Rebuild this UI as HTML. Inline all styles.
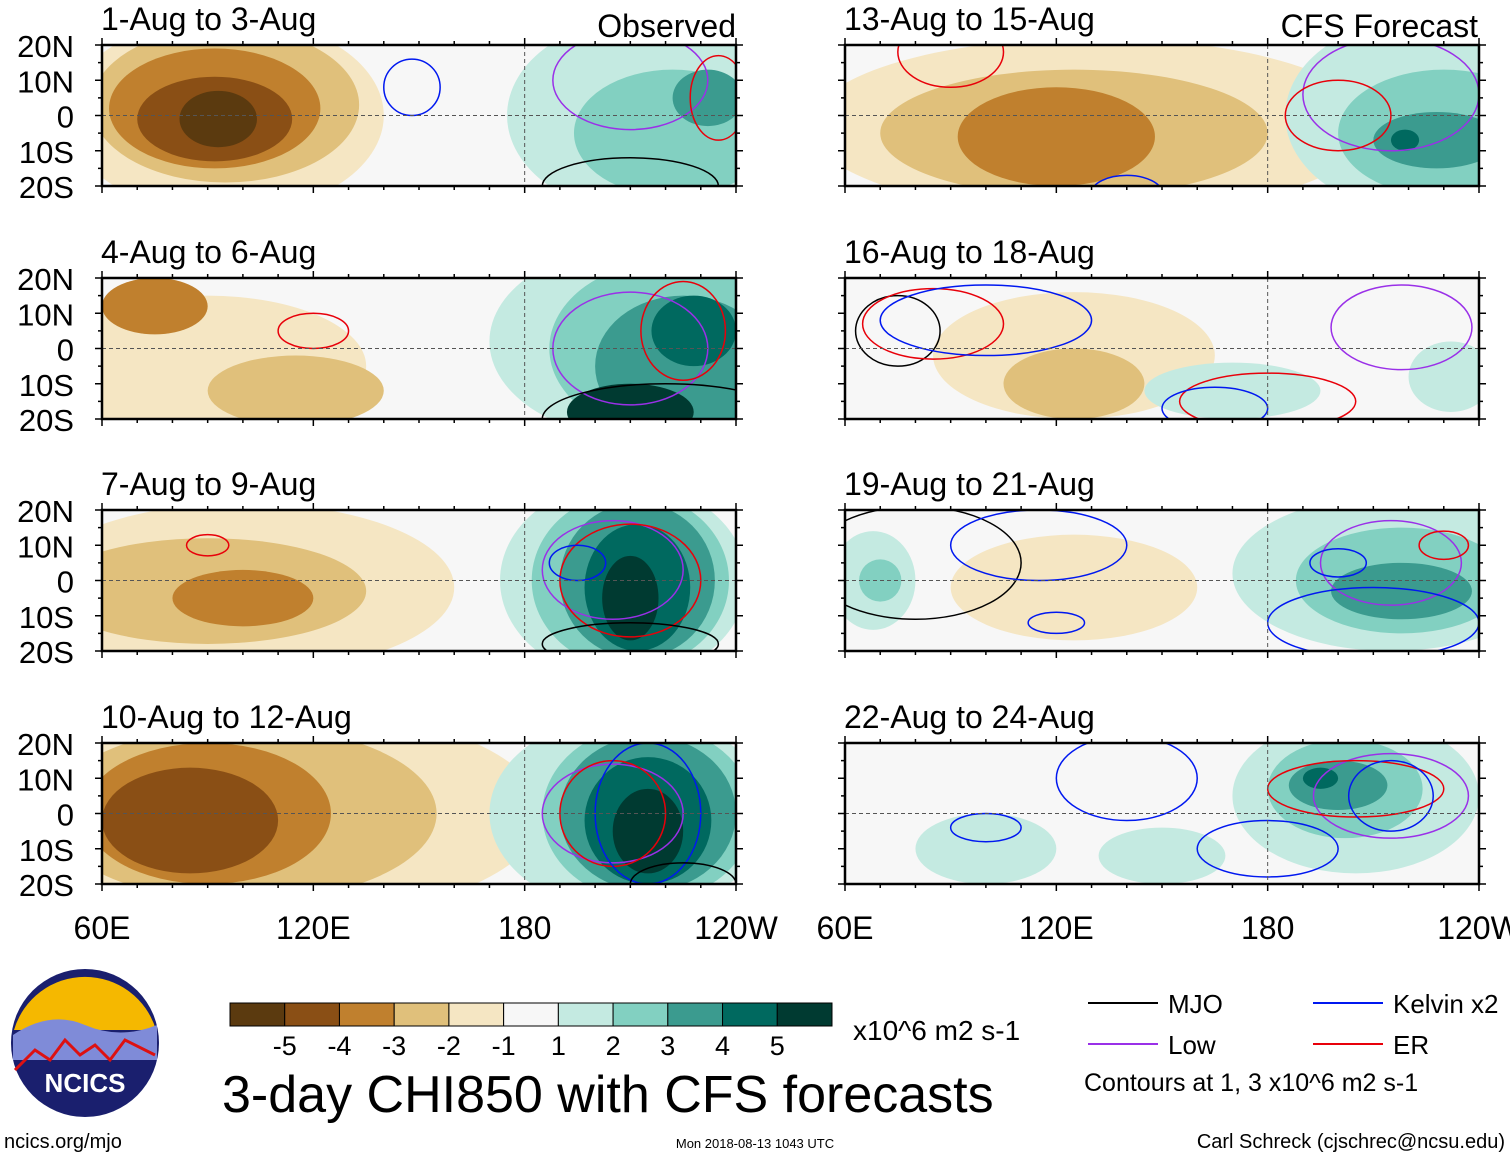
<!DOCTYPE html>
<html><head><meta charset="utf-8"><style>
body{margin:0;background:#fff;font-family:"Liberation Sans",sans-serif;}
#root{position:relative;width:1510px;height:1158px;overflow:hidden;}
</style></head><body><div id="root">
<svg id="svg" width="1510" height="1158" style="position:absolute;left:0;top:0"></svg>
</div>
<script>
const levelColors={"-5":"#5b3a0f","-4":"#8a4f15","-3":"#c0802e","-2":"#e0c07b","-1":"#f5e6c3","1":"#c4eae1","2":"#82d0c1","3":"#3b9b8f","4":"#00695f","5":"#003a31"};
const contourColors={mjo:"#000",low:"#9a30e8",kelvin:"#0018f0",er:"#e8000a"};
const panelTitles=["1-Aug to 3-Aug","4-Aug to 6-Aug","7-Aug to 9-Aug","10-Aug to 12-Aug","13-Aug to 15-Aug","16-Aug to 18-Aug","19-Aug to 21-Aug","22-Aug to 24-Aug"];
// blobs: [lon, lat, rxDeg, ryDeg, level]
const panelBlobs=[
 [[95,0,45,28,-1],[95,3,38,22,-2],[92,2,30,17,-3],[92,-1,22,12,-4],[93,-1,11,8,-5],[215,0,40,28,1],[222,-5,28,18,2],[232,5,10,8,3]],
 [[90,-5,45,20,-1],[115,-12,25,10,-2],[75,12,15,8,-3],[215,2,45,28,1],[222,0,35,25,2],[225,-5,25,20,3],[228,5,12,10,4],[210,-18,18,8,5]],
 [[100,-2,60,24,-1],[90,-3,45,15,-2],[100,-5,20,8,-3],[208,0,35,28,1],[210,0,28,25,2],[212,0,22,22,3],[212,-2,15,18,4],[210,-5,8,12,5]],
 [[110,0,75,30,-1],[100,0,55,25,-2],[90,0,35,20,-3],[85,-2,25,15,-4],[210,0,40,28,1],[215,0,30,25,2],[215,0,25,22,3],[215,-2,18,18,4],[215,-5,10,12,5]],
 [[130,-3,80,25,-1],[125,-5,55,18,-2],[120,-6,28,14,-3],[225,0,40,28,1],[230,-5,30,18,2],[228,-7,18,8,3],[219,-7,4,3,4]],
 [[125,-2,40,18,-1],[125,-10,20,10,-2],[170,-12,25,8,1],[232,-8,12,10,1]],
 [[68,0,12,14,1],[70,0,6,6,2],[125,-2,35,15,-1],[215,2,45,22,1],[218,0,30,15,2],[218,-3,20,8,3]],
 [[100,-10,20,10,1],[150,-12,18,8,1],[205,5,35,22,1],[202,7,22,14,2],[200,8,14,7,3],[195,10,5,3,4]]
];
// contours: [lon, lat, rxDeg, ryDeg, type]
const panelContours=[
 [[148,8,8,8,"kelvin"],[210,-20,25,8,"mjo"],[210,10,22,14,"low"],[235,5,8,12,"er"]],
 [[120,5,10,5,"er"],[210,0,22,16,"low"],[220,-20,35,10,"mjo"],[225,5,12,14,"er"]],
 [[90,10,6,3,"er"],[205,3,20,14,"low"],[210,0,20,16,"er"],[210,-18,25,6,"mjo"],[195,5,8,5,"kelvin"]],
 [[205,0,20,14,"low"],[205,0,15,15,"er"],[215,0,15,20,"kelvin"],[225,-20,15,6,"mjo"]],
 [[90,18,15,10,"er"],[215,6,25,16,"low"],[200,0,15,10,"er"],[140,-22,10,5,"kelvin"]],
 [[75,5,12,10,"mjo"],[85,7,20,10,"er"],[100,8,30,10,"kelvin"],[218,6,20,12,"low"],[180,-15,25,8,"er"],[165,-17,15,6,"kelvin"]],
 [[80,5,30,16,"mjo"],[115,10,25,10,"kelvin"],[120,-12,8,3,"kelvin"],[215,5,20,12,"low"],[200,5,8,4,"kelvin"],[210,-12,30,10,"kelvin"],[230,10,7,4,"er"]],
 [[140,10,20,12,"kelvin"],[100,-4,10,4,"kelvin"],[215,5,22,12,"low"],[205,7,25,8,"er"],[215,5,12,10,"kelvin"],[180,-10,20,8,"kelvin"]]
];
const svg=document.getElementById('svg');const NS="http://www.w3.org/2000/svg";
function mk(tag,attrs,parent){const e=document.createElementNS(NS,tag);for(const k in attrs)e.setAttribute(k,attrs[k]);(parent||svg).appendChild(e);return e;}
const lefts=[102,845],tops=[45,278,510,743],W=634,H=141;
function txt(x,y,s,size,anchor,name){const t=mk('text',{x:x,y:y,'font-size':size,'font-family':'Liberation Sans, sans-serif','text-anchor':anchor||'start'});t.textContent=s;return t;}
for(let p=0;p<8;p++){
 const col=p<4?0:1,row=p%4,x0=lefts[col],y0=tops[row];
 const sx=lon=>x0+(lon-60)/180*W, sy=lat=>y0+(20-lat)/40*H;
 const g=mk('g',{});
 const cp=mk('clipPath',{id:'c'+p},g);mk('rect',{x:x0,y:y0,width:W,height:H},cp);
 mk('rect',{x:x0,y:y0,width:W,height:H,fill:'#f7f7f7'},g);
 const gg=mk('g',{'clip-path':'url(#c'+p+')'},g);
 panelBlobs[p].forEach(b=>{const e=mk('ellipse',{cx:sx(b[0]),cy:sy(b[1]),rx:b[2]/180*W,ry:b[3]/40*H,fill:levelColors[b[4]]},gg);});
 panelContours[p].forEach(c=>{const e=mk('ellipse',{cx:sx(c[0]),cy:sy(c[1]),rx:c[2]/180*W,ry:c[3]/40*H,fill:'none',stroke:contourColors[c[4]],'stroke-width':1.5},gg);});
 mk('line',{x1:x0,x2:x0+W,y1:sy(0),y2:sy(0),stroke:'#555','stroke-dasharray':'4,3','stroke-width':1},g);
 mk('line',{x1:sx(180),x2:sx(180),y1:y0,y2:y0+H,stroke:'#555','stroke-dasharray':'4,3','stroke-width':1},g);
 mk('rect',{x:x0,y:y0,width:W,height:H,fill:'none',stroke:'#000','stroke-width':2.5},g);
 for(let lon=60;lon<=240;lon+=10){const L=lon%60==0?7:4;mk('line',{x1:sx(lon),x2:sx(lon),y1:y0,y2:y0-L,stroke:'#000','stroke-width':1.5},g);mk('line',{x1:sx(lon),x2:sx(lon),y1:y0+H,y2:y0+H+L,stroke:'#000','stroke-width':1.5},g);}
 for(let lat=-20;lat<=20;lat+=5){const L=lat%10==0?7:4;mk('line',{x1:x0,x2:x0-L,y1:sy(lat),y2:sy(lat),stroke:'#000','stroke-width':1.5},g);mk('line',{x1:x0+W,x2:x0+W+L,y1:sy(lat),y2:sy(lat),stroke:'#000','stroke-width':1.5},g);}
 txt(x0-1,y0-15,panelTitles[p],32,'start','panel-title');
 if(col==0){["20N","10N","0","10S","20S"].forEach((s,i)=>txt(74,y0+i*H/4+12,s,31,'end','lat-label'));}
 if(row==3){["60E","120E","180","120W"].forEach((s,i)=>txt(x0+i*W/3,y0+H+55,s,32,'middle','lon-label'));}
}
txt(736,37,"Observed",32,'end','observed-label');
txt(1478,37,"CFS Forecast",32,'end','forecast-label');
const cbColors=["#5b3a0f","#8a4f15","#c0802e","#e0c07b","#f5e6c3","#f7f7f7","#c4eae1","#82d0c1","#3b9b8f","#00695f","#003a31"];
const cbLabels=["-5","-4","-3","-2","-1","1","2","3","4","5"];
const cbw=602/11;
cbColors.forEach((c,i)=>{const r=mk('rect',{x:230+i*cbw,y:1003,width:cbw,height:23,fill:c,stroke:'#000','stroke-width':1});});
cbLabels.forEach((s,i)=>txt(230+(i+1)*cbw,1055,s,27,'middle','colorbar-tick'));
txt(853,1040,"x10^6 m2 s-1",28,'start','colorbar-units');
txt(222,1112,"3-day CHI850 with CFS forecasts",52,'start','figure-title');
[["MJO","mjo",1088,1003],["Low","low",1088,1044],["Kelvin x2","kelvin",1313,1003],["ER","er",1313,1044]].forEach(l=>{mk('line',{x1:l[2],x2:l[2]+70,y1:l[3],y2:l[3],stroke:contourColors[l[1]],'stroke-width':2});txt(l[2]+80,l[3]+10,l[0],26,'start','legend-entry');});
txt(1084,1091,"Contours at 1, 3 x10^6 m2 s-1",25,'start','contour-note');
txt(4,1148,"ncics.org/mjo",20,'start','url-label');
txt(755,1148,"Mon 2018-08-13 1043 UTC",13,'middle','timestamp');
txt(1505,1148,"Carl Schreck (cjschrec@ncsu.edu)",20,'end','author');
const lg=mk('g',{});
mk('circle',{cx:85,cy:1043,r:74,fill:'#1a1f6e'},lg);
mk('path',{d:'M14,1030 A74,74 0 0 1 156,1030 Z',fill:'#f5b800'},lg);
mk('path',{d:'M13,1035 Q50,1010 85,1025 T157,1025 L157,1060 L13,1060Z',fill:'#7f8bd8'},lg);
mk('path',{d:'M15,1070 L35,1050 L50,1060 L65,1040 L80,1055 L95,1045 L110,1060 L125,1040 L155,1055',fill:'none',stroke:'#d11',"stroke-width":3},lg);
const nt=txt(85,1092,"NCICS",26,'middle','logo-text');nt.setAttribute('fill','#fff');nt.setAttribute('font-weight','bold');
</script></body></html>
